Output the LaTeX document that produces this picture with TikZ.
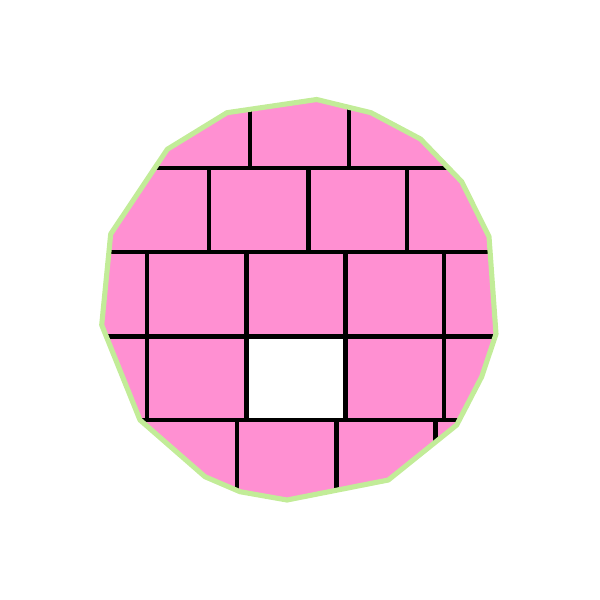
\documentclass[tikz,border=0pt]{standalone}
\usetikzlibrary{calc}
\definecolor{tilepink}{RGB}{255,144,210}
\definecolor{rimgreen}{RGB}{194,236,152}
\tikzset{
  rim/.style={draw=rimgreen, line width=1.45pt, line join=round},
  seam/.style={draw=black, line width=1.15pt},
  hole/.style={fill=white}
}
\begin{document}
\begin{tikzpicture}[x=0.01cm, y=-0.01cm]
\useasboundingbox (0,0) rectangle (600,600);
% corners of the patch, clockwise from the top
\foreach \px/\py [count=\i] in {316.7/99.5, 371/112.7, 420.5/139, 461.7/181.7, 489/236.7,
    496/334, 481.7/376.7, 456.7/425, 388.3/480, 287/500, 240/491.7, 205/476.7,
    140/420, 101.7/325, 110.7/234, 167.3/149.3, 227/112.7}
  \coordinate (p\i) at (\px,\py);
\begin{scope}
\clip (p1) \foreach \i in {2,...,17} { -- (p\i) } -- cycle;
\fill[tilepink] (0,0) rectangle (600,600);
\fill[hole] (246.5,336.5) rectangle (345.5,420);
% courses
\foreach \cy in {168,252,336.5,420}
  \draw[seam] (0,\cy) -- (600,\cy);
% joints, one course at a time
\foreach \cx in {250,349} \draw[seam] (\cx,0) -- (\cx,168);
\foreach \cx in {209,308.5,407} \draw[seam] (\cx,168) -- (\cx,252);
\foreach \cx in {147,246.5,345.5,444} \draw[seam] (\cx,252) -- (\cx,336.5);
\foreach \cx in {147,246.5,345.5,444} \draw[seam] (\cx,336.5) -- (\cx,420);
\foreach \cx in {237,336.5,435.5} \draw[seam] (\cx,420) -- (\cx,600);
\end{scope}
\draw[rim] (p1) \foreach \i in {2,...,17} { -- (p\i) } -- cycle;
\end{tikzpicture}
\end{document}
